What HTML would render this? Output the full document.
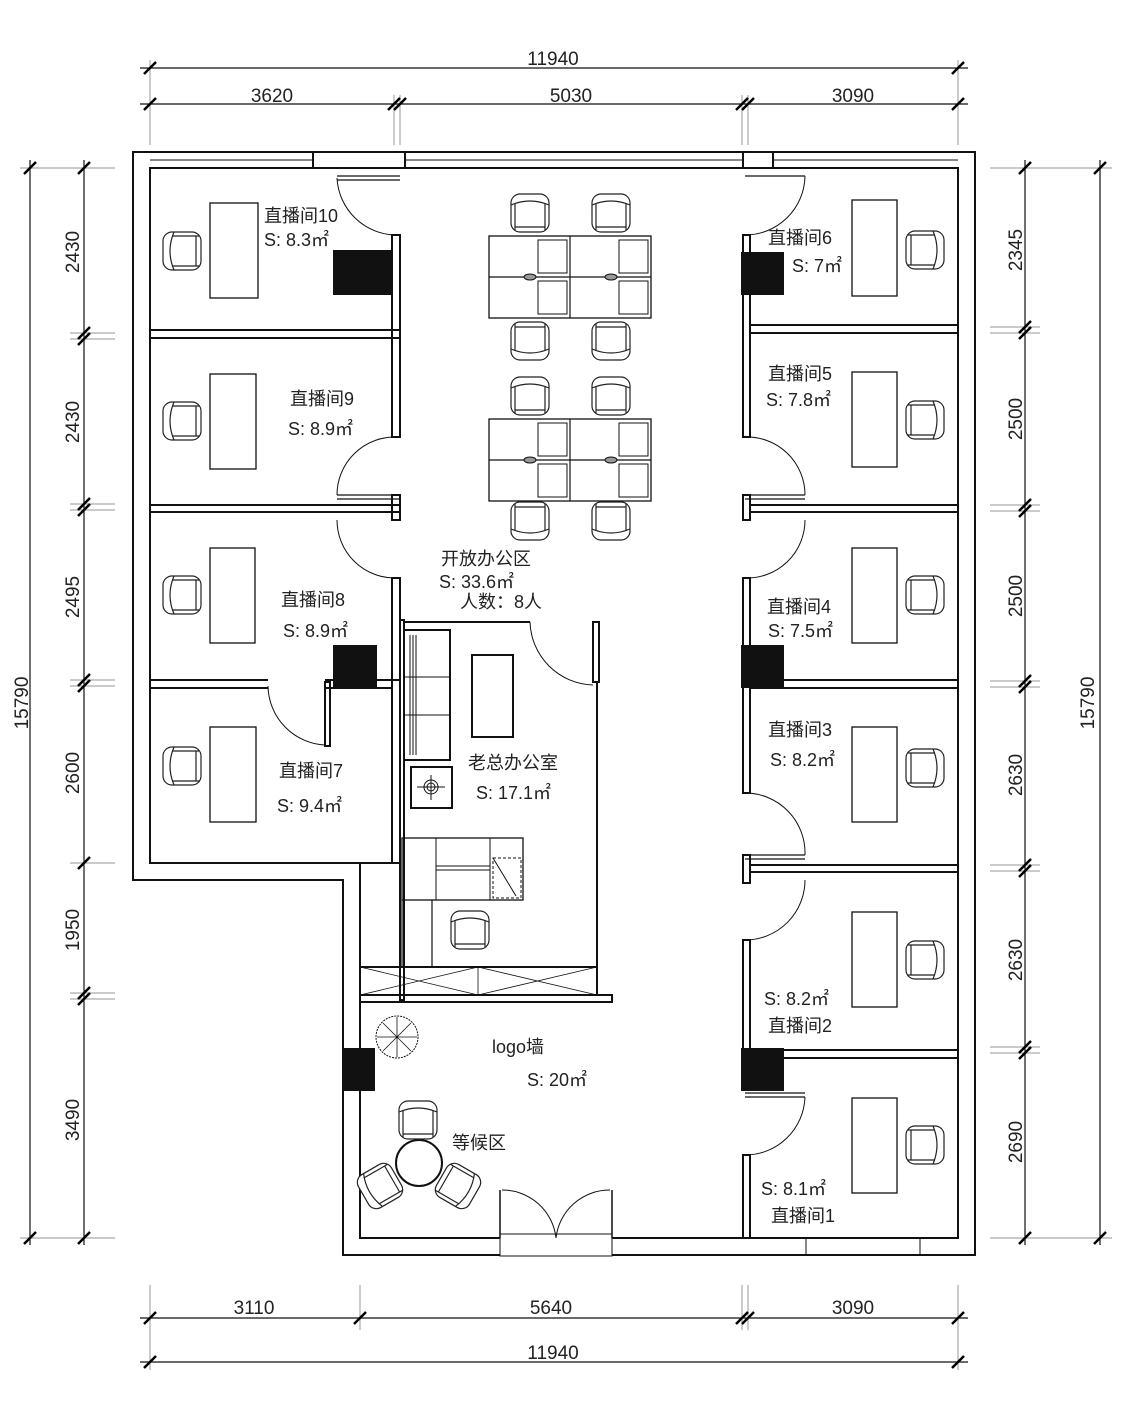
<!DOCTYPE html>
<html><head><meta charset="utf-8"><style>
html,body{margin:0;padding:0;background:#fff;}
svg{display:block;}
text{font-family:"Liberation Sans","Noto Sans CJK SC",sans-serif;fill:#222;}
</style></head><body>
<svg width="1125" height="1405" viewBox="0 0 1125 1405" xmlns="http://www.w3.org/2000/svg">
<defs>
<g id="chair" fill="#fff" stroke="#222" stroke-width="1.2">
<rect x="-19" y="-19" width="38" height="38" rx="9"/>
<path d="M-19,-8 Q0,-16 19,-8" fill="none"/>
<path d="M-15,-10 L-15,17 M15,-10 L15,17" fill="none"/>
<path d="M-15,14 L15,14" fill="none"/>
</g>
<g id="tk" stroke="#000" stroke-width="2.5"><line x1="-6" y1="6" x2="6" y2="-6"/></g>
</defs>
<g fill="none" stroke="#111" stroke-width="2">
<path d="M133,152 L975,152 L975,1255 L343,1255 L343,880 L133,880 Z"/>
<path d="M150,168 L958,168 L958,1238 L360,1238 L360,863 L150,863 Z"/>
<line x1="313" y1="152" x2="313" y2="168"/><line x1="405" y1="152" x2="405" y2="168"/>
<line x1="150" y1="160" x2="313" y2="160" stroke-width="1"/>
<line x1="405" y1="160" x2="743" y2="160" stroke-width="1"/>
<line x1="743" y1="152" x2="743" y2="168"/><line x1="773" y1="152" x2="773" y2="168"/>
<line x1="773" y1="160" x2="958" y2="160" stroke-width="1"/>
<rect x="500" y="1234" width="112" height="22" fill="#fff" stroke-width="1"/>
<line x1="500" y1="1190" x2="500" y2="1238" stroke-width="1.5"/><line x1="612" y1="1190" x2="612" y2="1238" stroke-width="1.5"/>
<path d="M502,1190 A54,54 0 0 1 556,1238" stroke-width="1"/>
<path d="M610,1190 A54,54 0 0 0 556,1238" stroke-width="1"/>
<line x1="806" y1="1238" x2="806" y2="1255" stroke-width="1"/><line x1="920" y1="1238" x2="920" y2="1255" stroke-width="1"/>

<path d="M150,330 L400,330 M150,338 L400,338"/>
<path d="M150,505 L400,505 M150,512 L400,512"/>
<path d="M150,680 L268,680 M150,688 L268,688"/>
<path d="M325,680 L400,680 M325,688 L392,688"/>
<rect x="325" y="682" width="5" height="64"/>
<rect x="392" y="235" width="8" height="202"/>
<rect x="392" y="495" width="8" height="25"/>
<rect x="392" y="578" width="8" height="285"/>
<line x1="360" y1="863" x2="400" y2="863"/>
<path d="M337,176 L400,176 M337,180 L400,180" stroke-width="1.2"/>
<path d="M337,178 A60,60 0 0 0 397,235" stroke-width="1"/>
<path d="M397,437 A58,58 0 0 0 337,495" stroke-width="1"/>
<path d="M337,495 L400,495 M337,499 L400,499" stroke-width="1.2"/>
<path d="M337,520 A58,58 0 0 0 397,578" stroke-width="1"/>
<path d="M268,686 A60,60 0 0 0 325,745" stroke-width="1"/>

<path d="M750,325 L958,325 M750,333 L958,333"/>
<path d="M750,505 L958,505 M750,512 L958,512"/>
<path d="M750,680 L958,680 M750,688 L958,688"/>
<path d="M750,865 L958,865 M750,872 L958,872"/>
<path d="M750,1050 L958,1050 M750,1058 L958,1058"/>
<rect x="743" y="235" width="7" height="202"/>
<rect x="743" y="495" width="7" height="25"/>
<rect x="743" y="578" width="7" height="215"/>
<rect x="743" y="855" width="7" height="28"/>
<rect x="743" y="940" width="7" height="150"/>
<rect x="743" y="1155" width="7" height="83"/>
<path d="M745,176 L805,176" stroke-width="1.2"/>
<path d="M805,176 A60,60 0 0 1 745,235" stroke-width="1"/>
<path d="M745,437 A58,58 0 0 1 805,495" stroke-width="1"/>
<path d="M745,495 L805,495 M745,499 L805,499" stroke-width="1.2"/>
<path d="M805,520 A58,58 0 0 1 745,578" stroke-width="1"/>
<path d="M745,793 A60,60 0 0 1 805,855" stroke-width="1"/>
<path d="M745,855 L805,855 M745,859 L805,859" stroke-width="1.2"/>
<path d="M805,880 A60,60 0 0 1 745,940" stroke-width="1"/>
<path d="M745,1093 L805,1093 M745,1097 L805,1097" stroke-width="1.2"/>
<path d="M805,1097 A60,60 0 0 1 745,1155" stroke-width="1"/>

<rect x="400" y="620" width="4" height="380"/>
<path d="M404,622 L530,622"/>
<path d="M530,622 A65,65 0 0 0 593,685" stroke-width="1"/>
<rect x="593" y="622" width="6" height="60"/>
<line x1="597" y1="682" x2="597" y2="967"/>
<rect x="360" y="967" width="237" height="28"/>
<path d="M360,967 L478,995 M360,995 L478,967 M478,967 L597,995 M478,995 L597,967 M478,967 L478,995" stroke-width="0.8"/>
<rect x="360" y="995" width="252" height="7"/>
<rect x="404" y="630" width="46" height="130"/>
<path d="M410,635 L410,755 M413,635 L413,755 M416,635 L416,755 M404,677 L450,677 M404,715 L450,715" stroke-width="1"/>
<rect x="472" y="655" width="41" height="82"/>
<rect x="411" y="767" width="41" height="41"/>
<circle cx="431" cy="787" r="7" stroke-width="1"/><circle cx="431" cy="787" r="4" stroke-width="1"/>
<path d="M417,787 L445,787 M431,775 L431,800" stroke-width="1"/>
<rect x="402" y="838" width="121" height="62" stroke-width="1.3"/>
<path d="M436,838 L436,900 M490,838 L490,900 M436,866 L490,866 M436,870 L490,870" stroke-width="1"/>
<rect x="493" y="858" width="28" height="40" stroke-dasharray="3,2" stroke-width="1"/>
<line x1="493" y1="858" x2="516" y2="896" stroke-width="1"/>
<path d="M402,900 L402,967 M432,900 L432,967" stroke-width="1.2"/>

<rect x="489" y="236" width="162" height="82" stroke-width="1.3"/>
<path d="M570,236 L570,318 M489,277 L651,277" stroke-width="1.2"/>
<rect x="538" y="240" width="29" height="33" stroke-width="1"/><rect x="538" y="281" width="29" height="33" stroke-width="1"/>
<rect x="619" y="240" width="29" height="33" stroke-width="1"/><rect x="619" y="281" width="29" height="33" stroke-width="1"/>
<rect x="489" y="419" width="162" height="82" stroke-width="1.3"/>
<path d="M570,419 L570,501 M489,460 L651,460" stroke-width="1.2"/>
<rect x="538" y="423" width="29" height="33" stroke-width="1"/><rect x="538" y="464" width="29" height="33" stroke-width="1"/>
<rect x="619" y="423" width="29" height="33" stroke-width="1"/><rect x="619" y="464" width="29" height="33" stroke-width="1"/>
<g fill="#999" stroke-width="1"><ellipse cx="530" cy="277" rx="6" ry="3"/><ellipse cx="611" cy="277" rx="6" ry="3"/><ellipse cx="530" cy="460" rx="6" ry="3"/><ellipse cx="611" cy="460" rx="6" ry="3"/></g>

<g stroke-width="1.3">
<rect x="210" y="203" width="48" height="95"/><rect x="210" y="374" width="46" height="95"/>
<rect x="210" y="548" width="45" height="95"/><rect x="210" y="727" width="46" height="95"/>
<rect x="852" y="200" width="45" height="96"/><rect x="852" y="372" width="45" height="95"/>
<rect x="852" y="548" width="45" height="95"/><rect x="852" y="727" width="45" height="95"/>
<rect x="852" y="912" width="45" height="95"/><rect x="852" y="1098" width="45" height="95"/>
</g>
<circle cx="419" cy="1163" r="23" stroke-width="2"/>
<circle cx="397" cy="1037" r="21" stroke-width="1" stroke-dasharray="2,1"/>
<path d="M397,1017 L397,1057 M377,1037 L417,1037 M383,1023 L411,1051 M411,1023 L383,1051" stroke-width="0.8"/>
</g>
<g fill="#111">
<rect x="333" y="250" width="60" height="45"/><rect x="741" y="252" width="43" height="43"/>
<rect x="333" y="645" width="44" height="43"/><rect x="741" y="645" width="43" height="43"/>
<rect x="741" y="1048" width="43" height="43"/><rect x="343" y="1048" width="32" height="43"/>
</g>
<use href="#chair" transform="translate(182,251) rotate(-90)"/>
<use href="#chair" transform="translate(182,421) rotate(-90)"/>
<use href="#chair" transform="translate(182,595) rotate(-90)"/>
<use href="#chair" transform="translate(182,766) rotate(-90)"/>
<use href="#chair" transform="translate(925,250) rotate(90)"/>
<use href="#chair" transform="translate(925,420) rotate(90)"/>
<use href="#chair" transform="translate(925,595) rotate(90)"/>
<use href="#chair" transform="translate(925,768) rotate(90)"/>
<use href="#chair" transform="translate(925,960) rotate(90)"/>
<use href="#chair" transform="translate(925,1145) rotate(90)"/>
<use href="#chair" transform="translate(530,213)"/>
<use href="#chair" transform="translate(611,213)"/>
<use href="#chair" transform="translate(530,341) rotate(180)"/>
<use href="#chair" transform="translate(611,341) rotate(180)"/>
<use href="#chair" transform="translate(530,396)"/>
<use href="#chair" transform="translate(611,396)"/>
<use href="#chair" transform="translate(530,521) rotate(180)"/>
<use href="#chair" transform="translate(611,521) rotate(180)"/>
<use href="#chair" transform="translate(470,930)"/>
<use href="#chair" transform="translate(418,1120)"/>
<use href="#chair" transform="translate(380,1186) rotate(-120)"/>
<use href="#chair" transform="translate(458,1186) rotate(120)"/>

<g stroke="#111" stroke-width="1.2" fill="none">
<line x1="140" y1="68" x2="968" y2="68"/>
<line x1="140" y1="104" x2="968" y2="104"/>
<line x1="150" y1="60" x2="150" y2="145" stroke="#aaa"/>
<line x1="958" y1="60" x2="958" y2="145" stroke="#aaa"/>
<line x1="394" y1="95" x2="394" y2="145" stroke="#aaa"/><line x1="400" y1="95" x2="400" y2="145" stroke="#aaa"/>
<line x1="742" y1="95" x2="742" y2="145" stroke="#aaa"/><line x1="748" y1="95" x2="748" y2="145" stroke="#aaa"/>
<line x1="140" y1="1318" x2="968" y2="1318"/>
<line x1="140" y1="1362" x2="968" y2="1362"/>
<line x1="150" y1="1285" x2="150" y2="1370" stroke="#aaa"/>
<line x1="958" y1="1285" x2="958" y2="1370" stroke="#aaa"/>
<line x1="360" y1="1285" x2="360" y2="1330" stroke="#aaa"/>
<line x1="742" y1="1285" x2="742" y2="1330" stroke="#aaa"/><line x1="748" y1="1285" x2="748" y2="1330" stroke="#aaa"/>
<line x1="30" y1="160" x2="30" y2="1245"/>
<line x1="84" y1="160" x2="84" y2="1245"/>
<line x1="20" y1="168" x2="115" y2="168" stroke="#aaa"/>
<line x1="20" y1="1238" x2="115" y2="1238" stroke="#aaa"/>
<line x1="70" y1="333" x2="115" y2="333" stroke="#aaa"/><line x1="70" y1="339" x2="115" y2="339" stroke="#aaa"/>
<line x1="70" y1="504" x2="115" y2="504" stroke="#aaa"/><line x1="70" y1="510" x2="115" y2="510" stroke="#aaa"/>
<line x1="70" y1="680" x2="115" y2="680" stroke="#aaa"/><line x1="70" y1="686" x2="115" y2="686" stroke="#aaa"/>
<line x1="70" y1="863" x2="115" y2="863" stroke="#aaa"/>
<line x1="70" y1="993" x2="115" y2="993" stroke="#aaa"/><line x1="70" y1="999" x2="115" y2="999" stroke="#aaa"/>
<line x1="1025" y1="160" x2="1025" y2="1245"/>
<line x1="1100" y1="160" x2="1100" y2="1245"/>
<line x1="990" y1="168" x2="1112" y2="168" stroke="#aaa"/>
<line x1="990" y1="1238" x2="1112" y2="1238" stroke="#aaa"/>
<line x1="990" y1="327" x2="1040" y2="327" stroke="#aaa"/><line x1="990" y1="333" x2="1040" y2="333" stroke="#aaa"/>
<line x1="990" y1="505" x2="1040" y2="505" stroke="#aaa"/><line x1="990" y1="511" x2="1040" y2="511" stroke="#aaa"/>
<line x1="990" y1="681" x2="1040" y2="681" stroke="#aaa"/><line x1="990" y1="687" x2="1040" y2="687" stroke="#aaa"/>
<line x1="990" y1="865" x2="1040" y2="865" stroke="#aaa"/><line x1="990" y1="871" x2="1040" y2="871" stroke="#aaa"/>
<line x1="990" y1="1047" x2="1040" y2="1047" stroke="#aaa"/><line x1="990" y1="1053" x2="1040" y2="1053" stroke="#aaa"/>
</g>
<g>
<use href="#tk" x="150" y="68"/><use href="#tk" x="958" y="68"/>
<use href="#tk" x="150" y="104"/><use href="#tk" x="394" y="104"/><use href="#tk" x="400" y="104"/><use href="#tk" x="742" y="104"/><use href="#tk" x="748" y="104"/><use href="#tk" x="958" y="104"/>
<use href="#tk" x="150" y="1318"/><use href="#tk" x="360" y="1318"/><use href="#tk" x="742" y="1318"/><use href="#tk" x="748" y="1318"/><use href="#tk" x="958" y="1318"/>
<use href="#tk" x="150" y="1362"/><use href="#tk" x="958" y="1362"/>
<use href="#tk" x="30" y="168"/><use href="#tk" x="30" y="1238"/>
<use href="#tk" x="84" y="168"/><use href="#tk" x="84" y="333"/><use href="#tk" x="84" y="339"/><use href="#tk" x="84" y="504"/><use href="#tk" x="84" y="510"/><use href="#tk" x="84" y="680"/><use href="#tk" x="84" y="686"/><use href="#tk" x="84" y="863"/><use href="#tk" x="84" y="993"/><use href="#tk" x="84" y="999"/><use href="#tk" x="84" y="1238"/>
<use href="#tk" x="1025" y="168"/><use href="#tk" x="1025" y="327"/><use href="#tk" x="1025" y="333"/><use href="#tk" x="1025" y="505"/><use href="#tk" x="1025" y="511"/><use href="#tk" x="1025" y="681"/><use href="#tk" x="1025" y="687"/><use href="#tk" x="1025" y="865"/><use href="#tk" x="1025" y="871"/><use href="#tk" x="1025" y="1047"/><use href="#tk" x="1025" y="1053"/><use href="#tk" x="1025" y="1238"/>
<use href="#tk" x="1100" y="168"/><use href="#tk" x="1100" y="1238"/>
</g>
<g font-size="19" text-anchor="middle">
<text x="553" y="65">11940</text>
<text x="272" y="102">3620</text><text x="571" y="102">5030</text><text x="853" y="102">3090</text>
<text x="254" y="1314">3110</text><text x="551" y="1314">5640</text><text x="853" y="1314">3090</text>
<text x="553" y="1359">11940</text>
<text transform="translate(28,703) rotate(-90)">15790</text>
<text transform="translate(1094,703) rotate(-90)">15790</text>
<text transform="translate(79,252) rotate(-90)">2430</text>
<text transform="translate(79,422) rotate(-90)">2430</text>
<text transform="translate(79,597) rotate(-90)">2495</text>
<text transform="translate(79,773) rotate(-90)">2600</text>
<text transform="translate(79,930) rotate(-90)">1950</text>
<text transform="translate(79,1120) rotate(-90)">3490</text>
<text transform="translate(1022,250) rotate(-90)">2345</text>
<text transform="translate(1022,419) rotate(-90)">2500</text>
<text transform="translate(1022,596) rotate(-90)">2500</text>
<text transform="translate(1022,775) rotate(-90)">2630</text>
<text transform="translate(1022,960) rotate(-90)">2630</text>
<text transform="translate(1022,1142) rotate(-90)">2690</text>
</g>
<g font-size="18">
<text x="264" y="222">直播间10</text><text x="264" y="246">S: 8.3㎡</text>
<text x="290" y="405">直播间9</text><text x="288" y="435">S: 8.9㎡</text>
<text x="281" y="606">直播间8</text><text x="283" y="637">S: 8.9㎡</text>
<text x="279" y="777">直播间7</text><text x="277" y="812">S: 9.4㎡</text>
<text x="768" y="244">直播间6</text><text x="792" y="272">S: 7㎡</text>
<text x="768" y="380">直播间5</text><text x="766" y="406">S: 7.8㎡</text>
<text x="767" y="613">直播间4</text><text x="768" y="637">S: 7.5㎡</text>
<text x="768" y="736">直播间3</text><text x="770" y="766">S: 8.2㎡</text>
<text x="764" y="1005">S: 8.2㎡</text><text x="768" y="1032">直播间2</text>
<text x="761" y="1195">S: 8.1㎡</text><text x="771" y="1222">直播间1</text>
<text x="441" y="565">开放办公区</text><text x="439" y="588">S: 33.6㎡</text><text x="460" y="608">人数：8人</text>
<text x="468" y="769">老总办公室</text><text x="476" y="799">S: 17.1㎡</text>
<text x="492" y="1053">logo墙</text><text x="527" y="1086">S: 20㎡</text>
<text x="452" y="1149">等候区</text>
</g>
</svg>
</body></html>
